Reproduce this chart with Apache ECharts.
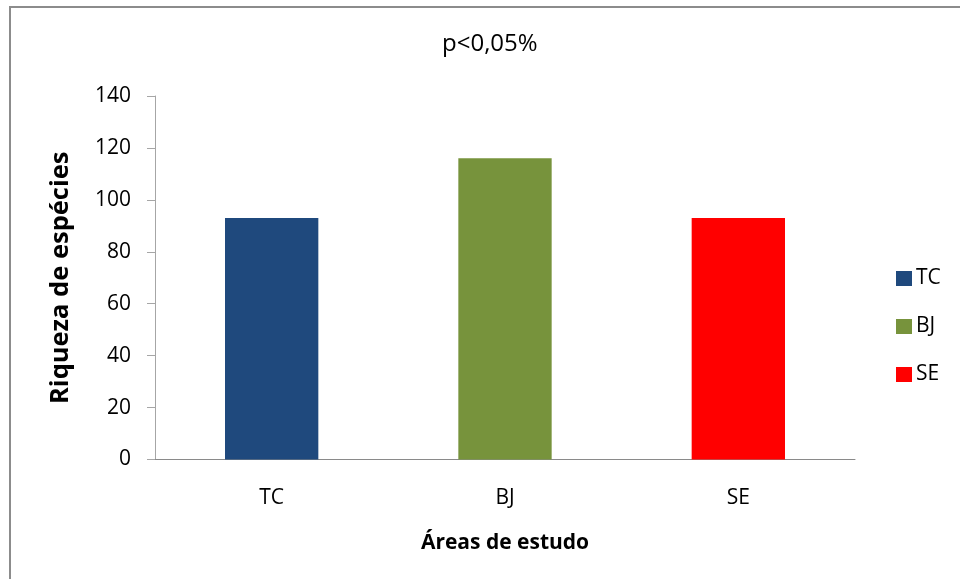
<!DOCTYPE html>
<html>
<head>
<meta charset="utf-8">
<script src="https://cdn.jsdelivr.net/npm/echarts@6/dist/echarts.min.js"></script>
<style>
  html, body { margin: 0; padding: 0; background: #fff; }
  #chart { width: 960px; height: 579px; }
</style>
</head>
<body>
<div id="chart"></div>
<script>
// Species richness per study area
const categories = ['TC', 'BJ', 'SE'];
const richness = [93, 116, 93];
const areaColors = ['#1F497D', '#77933C', '#FF0000'];
const yTicks = { min: 0, max: 140, interval: 20 };

const FONT = '"Open Sans", Lato, sans-serif';

// one series per area, stacked so each bar stays centred on its category
const series = categories.map((name, i) => ({
  name: name,
  type: 'bar',
  stack: 'areas',
  barWidth: '40%',
  data: categories.map((c, j) => (j === i ? richness[i] : '-')),
  itemStyle: { color: areaColors[i] }
}));

const chart = echarts.init(document.getElementById('chart'), null, { renderer: 'canvas' });
chart.setOption({
  backgroundColor: '#ffffff',
  animation: false,
  textStyle: { fontFamily: FONT },
  title: {
    text: 'p<0,05%',
    left: 442,
    top: 32,
    padding: 0,
    textStyle: { fontFamily: FONT, fontSize: 24, fontWeight: 'normal', color: '#000' }
  },
  graphic: [{
    type: 'rect',
    shape: { x: 10, y: 7, width: 980, height: 600 },
    style: { fill: 'none', stroke: '#8c8c8c', lineWidth: 2 },
    silent: true
  }],
  legend: {
    orient: 'vertical',
    left: 891,
    top: 263,
    itemWidth: 16,
    itemHeight: 15,
    itemGap: 27,
    icon: 'rect',
    textStyle: { fontFamily: FONT, fontSize: 21, color: '#000', padding: [0, 0, 0, -1] },
    data: categories
  },
  grid: { left: 155, right: 105, top: 96, bottom: 119.5 },
  xAxis: {
    type: 'category',
    data: categories,
    name: 'Áreas de estudo',
    nameLocation: 'middle',
    nameGap: 73,
    nameTextStyle: { fontFamily: FONT, fontSize: 21, fontWeight: 'bold', color: '#000' },
    axisLine: { lineStyle: { color: '#8a8a8a', width: 1 } },
    axisTick: { show: false },
    axisLabel: { margin: 28, fontFamily: FONT, fontSize: 21, color: '#000' }
  },
  yAxis: {
    type: 'value',
    min: yTicks.min,
    max: yTicks.max,
    interval: yTicks.interval,
    name: 'Riqueza de espécies',
    nameLocation: 'middle',
    nameGap: 81,
    nameTextStyle: { fontFamily: FONT, fontSize: 25.5, fontWeight: 'bold', color: '#000' },
    axisLine: { show: true, lineStyle: { color: '#a6a6a6', width: 1 } },
    axisTick: { show: true, inside: false, length: 8, lineStyle: { color: '#a6a6a6' } },
    axisLabel: { margin: 24, fontFamily: FONT, fontSize: 21, color: '#000' },
    splitLine: { show: false }
  },
  series: series
});
</script>
</body>
</html>
